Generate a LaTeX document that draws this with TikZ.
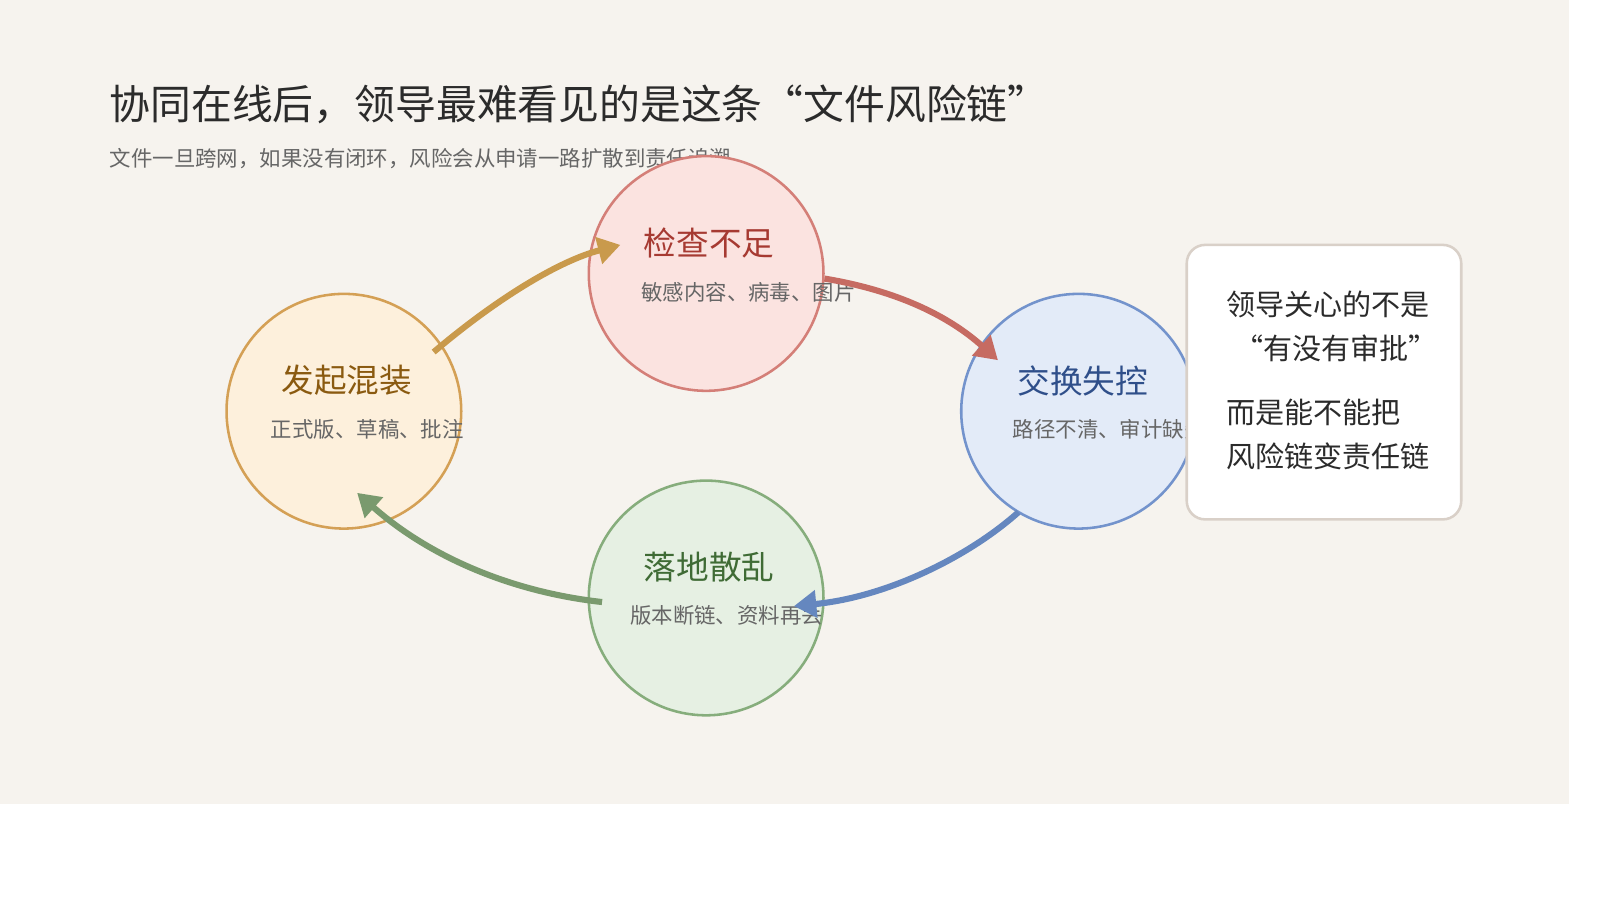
\documentclass[tikz,border=0pt]{standalone}
\usepackage{fontspec}
\setmainfont{Noto Sans CJK SC}
\usetikzlibrary{arrows.meta}
\definecolor{bg}{HTML}{F6F3EE}
\definecolor{ink}{HTML}{2B2B2B}
\definecolor{sub}{HTML}{666666}
\definecolor{yS}{HTML}{D4A055}\definecolor{yF}{HTML}{FDF0DC}\definecolor{yT}{HTML}{8A5A10}\definecolor{yA}{HTML}{C99A4C}
\definecolor{rS}{HTML}{D47F78}\definecolor{rF}{HTML}{FBE3E0}\definecolor{rT}{HTML}{A63A32}\definecolor{rA}{HTML}{C66B62}
\definecolor{bS}{HTML}{7393CC}\definecolor{bF}{HTML}{E3EBF8}\definecolor{bT}{HTML}{2F4F8A}\definecolor{bA}{HTML}{6587BF}
\definecolor{gS}{HTML}{86AD7C}\definecolor{gF}{HTML}{E6F0E3}\definecolor{gT}{HTML}{3F6B35}\definecolor{gA}{HTML}{7A9A6E}
\definecolor{cardS}{HTML}{D9D0C8}
\begin{document}
\begin{tikzpicture}[x=1pt,y=-1pt,
  bub/.style={circle,minimum size=230pt,line width=2.5pt,inner sep=0pt},
  ttl/.style={font=\fontsize{32}{36}\selectfont},
  sbt/.style={font=\fontsize{21}{25}\selectfont,text=sub,anchor=west},
  arr/.style={line width=6pt,-{Triangle[length=22pt,width=26pt]}},
  cardtxt/.style={font=\fontsize{28.5}{34}\selectfont,text=ink,anchor=west}]
\useasboundingbox (0,0) rectangle (1568,882);
\fill[bg] (0,0) rectangle (1538,788);
\node[anchor=west,text=ink,font=\fontsize{40}{46}\selectfont] (title) at (104,102) {协同在线后，领导最难看见的是这条“文件风险链”};
\node[anchor=west,text=sub,font=\fontsize{21}{25}\selectfont] (subtitle) at (104,155) {文件一旦跨网，如果没有闭环，风险会从申请一路扩散到责任追溯};
% circles
\node[bub,draw=yS,fill=yF] (a) at (337,403) {};
\node[bub,draw=rS,fill=rF] (b) at (692,268) {};
\node[bub,draw=bS,fill=bF] (c) at (1057,403) {};
\node[bub,draw=gS,fill=gF] (d) at (692,586) {};
\node[ttl,text=yT] (at) at (340,373) {发起混装};
\node[sbt] (as) at (262,421) {正式版、草稿、批注};
\node[ttl,text=rT] (bt) at (695,238) {检查不足};
\node[sbt] (bs) at (625,286) {敏感内容、病毒、图片};
\node[ttl,text=bT] (ct) at (1061,373) {交换失控};
\node[sbt] (cs) at (989,421) {路径不清、审计缺失};
\node[ttl,text=gT] (dt) at (695,556) {落地散乱};
\node[sbt] (ds) at (614,603) {版本断链、资料再丢};
% arrows
\coordinate (a1) at (425,345); \coordinate (b1) at (608,240);
\coordinate (b2) at (808,273); \coordinate (c1) at (978,353);
\coordinate (c2) at (998,502); \coordinate (d1) at (778,594);
\coordinate (d2) at (590,590); \coordinate (a2) at (350,483);
\draw[arr,draw=yA] (a1) .. controls (490,290) and (550,255) .. (b1);
\draw[arr,draw=rA] (b2) .. controls (880,285) and (930,310) .. (c1);
\draw[arr,draw=bA] (c2) .. controls (950,545) and (870,585) .. (d1);
\draw[arr,draw=gA] (d2) .. controls (500,580) and (420,545) .. (a2);
% card
\draw[line width=2.5pt,draw=cardS,fill=white,rounded corners=18pt] (1163,240) rectangle (1432,509);
\node[cardtxt] (l1) at (1198,298) {领导关心的不是};
\node[cardtxt] (l2) at (1206,341) {“有没有审批”};
\node[cardtxt] (l3) at (1198,404) {而是能不能把};
\node[cardtxt] (l4) at (1198,447) {风险链变责任链};
\end{tikzpicture}
\end{document}
